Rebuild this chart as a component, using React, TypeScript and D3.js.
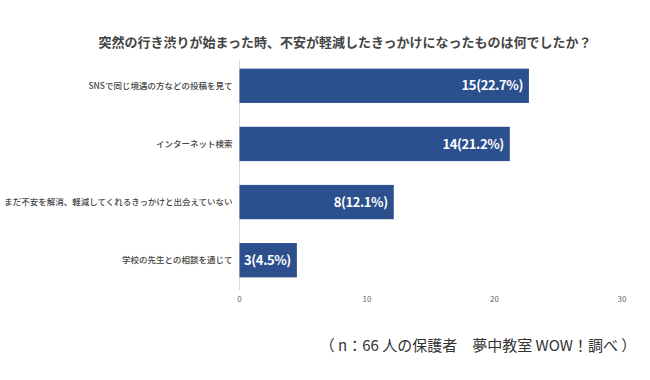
import React from "react";
import * as d3 from "d3";

const title = "突然の行き渋りが始まった時、不安が軽減したきっかけになったものは何でしたか？";
const categories = [
  "SNSで同じ境遇の方などの投稿を見て",
  "インターネット検索",
  "まだ不安を解消、軽減してくれるきっかけと出会えていない",
  "学校の先生との相談を通じて",
];
const counts = [15, 14, 8, 3];
const percents = [22.7, 21.2, 12.1, 4.5];
const ticks = [0, 10, 20, 30];
const footer = "（ n：66 人の保護者　夢中教室 WOW！調べ ）";

const W = 650;
const H = 380;
const font = "'Noto Sans CJK JP', 'Noto Sans', sans-serif";

export default function App() {
  const x = d3.scaleLinear().domain([0, 30]).range([239.5, 622]);
  const y = d3.scaleBand().domain(categories).range([57, 289]).paddingInner(0.41).paddingOuter(0.2);

  return (
    <svg width={W} height={H} style={{ position: "absolute", left: 0, top: 0, background: "#fff" }}>
      <rect width={W} height={H} fill="#fff" />
      <text x={345} y={47} textAnchor="middle" fontFamily={font} fontSize={13} fontWeight={700} fill="#444">
        {title}
      </text>
      <line x1={x(0)} x2={x(0)} y1={60} y2={290} stroke="#d9d9d9" strokeWidth={1} />
      {categories.map((c, i) => (
        <g key={c}>
          <rect x={x(0)} y={y(c)} width={x(percents[i]) - x(0)} height={y.bandwidth()} fill="#2C4F8D" />
          <text
            x={x(0) - 7}
            y={(y(c) as number) + y.bandwidth() / 2}
            dy="0.35em"
            textAnchor="end"
            fontFamily={font}
            fontSize={8.5}
            fontWeight={500}
            fill="#444"
          >
            {c}
          </text>
          <text
            x={x(percents[i]) - 6}
            y={(y(c) as number) + y.bandwidth() / 2}
            dy="0.36em"
            textAnchor="end"
            fontFamily={font}
            fontSize={13}
            fontWeight={700}
            letterSpacing={-0.4}
            fill="#fff"
          >
            {`${counts[i]}(${percents[i]}%)`}
          </text>
        </g>
      ))}
      {ticks.map((t) => (
        <text key={t} x={x(t)} y={302} textAnchor="middle" fontFamily={font} fontSize={8} fill="#666">
          {t}
        </text>
      ))}
      <text x={478} y={351} textAnchor="middle" fontFamily={font} fontSize={15} fill="#333">
        {footer}
      </text>
    </svg>
  );
}
